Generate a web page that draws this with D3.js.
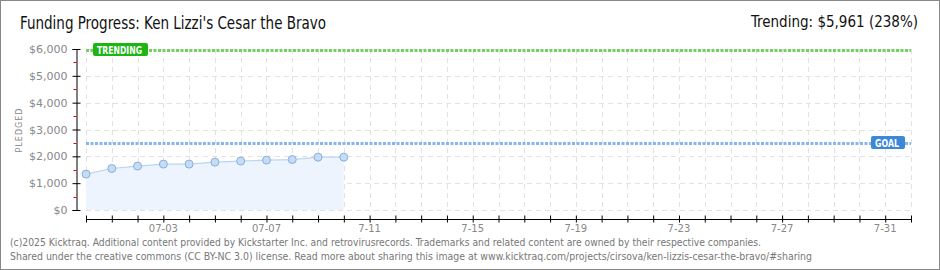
<!DOCTYPE html>
<html>
<head>
<meta charset="utf-8">
<script src="https://cdn.jsdelivr.net/npm/d3@7"></script>
<style>
  body { margin: 0; background: #fff; }
  svg { display: block; }
</style>
</head>
<body>
<div id="chart"></div>
<script>
// values
const dates = ["2025-06-30", "2025-07-01", "2025-07-02", "2025-07-03", "2025-07-04", "2025-07-05",
               "2025-07-06", "2025-07-07", "2025-07-08", "2025-07-09", "2025-07-10"];
const pledged = [1338, 1546, 1636, 1710, 1710, 1784, 1822, 1859, 1881, 1970, 1970];
const goal = 2500;
const trending = 5961;
const yTicks = [0, 1000, 2000, 3000, 4000, 5000, 6000];
const xLabelDates = ["2025-07-03", "2025-07-07", "2025-07-11", "2025-07-15", "2025-07-19",
                     "2025-07-23", "2025-07-27", "2025-07-31"];
const xLabels = ["07-03", "07-07", "7-11", "7-15", "7-19", "7-23", "7-27", "7-31"];
const footer = [
  "(c)2025 Kicktraq. Additional content provided by Kickstarter Inc. and retrovirusrecords. Trademarks and related content are owned by their respective companies.",
  "Shared under the creative commons (CC BY-NC 3.0) license. Read more about sharing this image at www.kicktraq.com/projects/cirsova/ken-lizzis-cesar-the-bravo/#sharing"
];

const W = 940, H = 270;
const NARROW = '"Liberation Sans Narrow", "DejaVu Sans Condensed", sans-serif';
const parse = d3.utcParse("%Y-%m-%d");

const svg = d3.select("#chart").append("svg")
    .attr("width", W).attr("height", H)
    .style("font-family", '"DejaVu Sans", sans-serif');

svg.append("rect")
    .attr("x", 0.5).attr("y", 0.5)
    .attr("width", W - 1).attr("height", H - 1)
    .attr("fill", "#fff").attr("stroke", "#888");

const x = d3.scaleUtc()
    .domain([parse("2025-06-30"), parse("2025-08-01")])
    .range([86, 911]);
const y = d3.scaleLinear()
    .domain([0, 6000])
    .range([210, 49]);

// grid
const allDays = d3.utcDay.range(parse("2025-06-30"), d3.utcDay.offset(parse("2025-08-01"), 1));
const grid = svg.append("g").attr("stroke", "#e2e2e2").attr("stroke-dasharray", "5,4");
grid.selectAll(".vg").data(allDays).join("line")
    .attr("x1", d => Math.round(x(d)) + 0.5).attr("x2", d => Math.round(x(d)) + 0.5)
    .attr("y1", y(6000)).attr("y2", y(0));
grid.selectAll(".hg").data(yTicks).join("line")
    .attr("x1", 86).attr("x2", 911)
    .attr("y1", d => Math.round(y(d)) + 0.5).attr("y2", d => Math.round(y(d)) + 0.5);

// area + line + points
const pts = dates.map((d, i) => ({ date: parse(d), v: pledged[i] }));
svg.append("path").datum(pts)
    .attr("fill", "#edf4fd")
    .attr("d", d3.area().x(d => x(d.date)).y0(y(0)).y1(d => y(d.v)));
svg.append("path").datum(pts)
    .attr("fill", "none").attr("stroke", "#b9d5f3").attr("stroke-width", 1.2)
    .attr("d", d3.line().x(d => x(d.date)).y(d => y(d.v)));
svg.selectAll(".pt").data(pts).join("circle")
    .attr("cx", d => x(d.date)).attr("cy", d => y(d.v)).attr("r", 4)
    .attr("fill", "#c3dcf7").attr("stroke", "#8daed6").attr("stroke-width", 1);

// goal + trending lines
function refLine(val, color) {
  svg.append("line")
      .attr("x1", 86).attr("x2", 911)
      .attr("y1", Math.round(y(val)) + 0.5).attr("y2", Math.round(y(val)) + 0.5)
      .attr("stroke", color).attr("stroke-width", 3).attr("stroke-dasharray", "3,1.5");
}
refLine(goal, "#86b6ea");
refLine(trending, "#74d062");

function badge(xPos, val, w, color, label) {
  const cy = Math.round(y(val));
  svg.append("rect")
      .attr("x", xPos).attr("y", cy - 7).attr("width", w).attr("height", 13)
      .attr("rx", 2).attr("fill", color);
  svg.append("text")
      .attr("x", xPos + 4).attr("y", cy + 4)
      .attr("fill", "#fff").attr("font-size", 10).attr("font-weight", "bold")
      .attr("textLength", w - 10).attr("lengthAdjust", "spacingAndGlyphs")
      .text(label);
}
badge(93, trending, 55, "#1cb514", "TRENDING");
badge(871, goal, 34, "#3d87d9", "GOAL");

// y axis
const yAxis = svg.append("g").attr("transform", "translate(76.5,0)")
    .call(d3.axisLeft(y).tickValues(yTicks).tickSize(4).tickPadding(5)
      .tickFormat(d => "$" + d3.format(",")(d)));
yAxis.select(".domain").attr("stroke", "#000");
yAxis.selectAll(".tick line").attr("stroke", "#000").attr("x2", 4).attr("x1", -4);
yAxis.selectAll(".tick text").attr("fill", "#888").attr("font-size", 11)
    .style("font-family", '"DejaVu Sans", sans-serif');
yAxis.selectAll(".minor").data([500, 1500, 2500, 3500, 4500, 5500]).join("line")
    .attr("x1", -3).attr("x2", 0)
    .attr("y1", d => Math.round(y(d)) + 0.5).attr("y2", d => Math.round(y(d)) + 0.5)
    .attr("stroke", "#e00");

svg.append("text")
    .attr("transform", "translate(22,130) rotate(-90)")
    .attr("text-anchor", "middle").attr("fill", "#888")
    .attr("font-size", 8).attr("letter-spacing", 1)
    .text("PLEDGED");

// x axis
const xAxis = svg.append("g").attr("transform", "translate(0,219.5)")
    .call(d3.axisBottom(x).tickValues(allDays).tickSize(4).tickFormat(""));
xAxis.select(".domain").attr("stroke", "#000").attr("d", "M86,0H911");
xAxis.selectAll(".tick line").attr("stroke", "#000").attr("y1", -4).attr("y2", 3);
svg.append("g").selectAll("text").data(xLabelDates).join("text")
    .attr("x", d => x(parse(d))).attr("y", 232)
    .attr("text-anchor", "middle").attr("fill", "#888").attr("font-size", 10)
    .text((d, i) => xLabels[i]);

// title + trending text
svg.append("text")
    .attr("x", 20).attr("y", 29)
    .style("font-family", NARROW)
    .attr("font-size", 17).attr("fill", "#111")
    .attr("textLength", 306).attr("lengthAdjust", "spacingAndGlyphs")
    .text("Funding Progress: Ken Lizzi's Cesar the Bravo");
svg.append("text")
    .attr("x", 918).attr("y", 27).attr("text-anchor", "end")
    .style("font-family", NARROW)
    .attr("font-size", 15).attr("fill", "#111")
    .text("Trending:  $5,961 (238%)");

// footer
svg.append("g").selectAll("text").data(footer).join("text")
    .attr("x", 10).attr("y", (d, i) => 246 + i * 14)
    .attr("fill", "#777").attr("font-size", 10)
    .style("font-family", NARROW)
    .attr("textLength", (d, i) => i === 0 ? 751 : 802).attr("lengthAdjust", "spacingAndGlyphs")
    .text(d => d);
</script>
</body>
</html>
